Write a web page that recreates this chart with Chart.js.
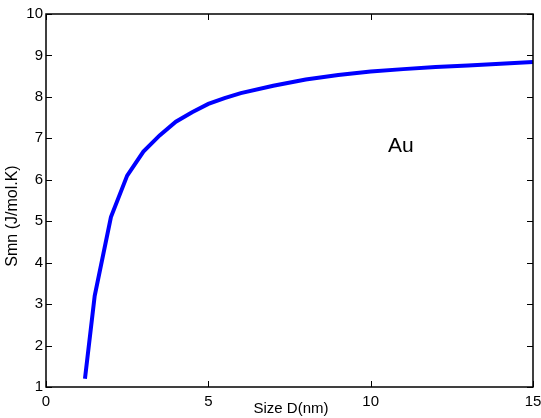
<!DOCTYPE html>
<html>
<head>
<meta charset="utf-8">
<script src="https://cdn.jsdelivr.net/npm/chart.js@4.4.0/dist/chart.umd.min.js"></script>
<style>
  html, body { margin: 0; padding: 0; background: #fff; }
  #wrap { width: 541px; height: 418px; position: relative; }
</style>
</head>
<body>
<div id="wrap"><canvas id="chart"></canvas></div>
<script>
// size D (nm) and molar entropy values
const sizeD = [1.2, 1.5, 2, 2.5, 3, 3.5, 4, 4.5, 5, 5.5, 6, 7, 8, 9, 10, 11, 12, 13, 14, 15];
const smn = [1.2, 3.2, 5.1, 6.1, 6.68, 7.07, 7.40, 7.63, 7.83, 7.97, 8.09, 8.27, 8.42, 8.53, 8.61, 8.67, 8.72, 8.76, 8.80, 8.84];
const xTicks = [0, 5, 10, 15];
const yTicks = [1, 2, 3, 4, 5, 6, 7, 8, 9, 10];
const xTitle = 'Size D(nm)';
const yTitle = 'Smn (J/mol.K)';
const note = 'Au';

const points = sizeD.map((d, i) => ({ x: d, y: smn[i] }));
const FONT = '"Liberation Sans", Arial, sans-serif';

// matlab style box + inward ticks + labels
const boxPlugin = {
  id: 'box',
  afterDraw(chart) {
    const ctx = chart.ctx;
    const a = chart.chartArea;
    const xs = chart.scales.x, ys = chart.scales.y;
    ctx.save();
    ctx.strokeStyle = '#000';
    ctx.lineWidth = 1.5;
    ctx.strokeRect(a.left, a.top, a.right - a.left, a.bottom - a.top);
    ctx.lineWidth = 1;
    ctx.beginPath();
    xTicks.forEach(t => {
      const px = Math.round(xs.getPixelForValue(t)) + 0.5;
      ctx.moveTo(px, a.bottom); ctx.lineTo(px, a.bottom - 6);
      ctx.moveTo(px, a.top); ctx.lineTo(px, a.top + 6);
    });
    yTicks.forEach(t => {
      const py = Math.round(ys.getPixelForValue(t)) + 0.5;
      ctx.moveTo(a.left, py); ctx.lineTo(a.left + 6, py);
      ctx.moveTo(a.right, py); ctx.lineTo(a.right - 6, py);
    });
    ctx.stroke();

    ctx.fillStyle = '#000';
    ctx.font = '15px ' + FONT;
    ctx.textAlign = 'center';
    ctx.textBaseline = 'middle';
    ctx.fillText(xTitle, 291, 409);
    ctx.save();
    ctx.translate(13, 216);
    ctx.rotate(-Math.PI / 2);
    ctx.font = '16px ' + FONT;
    ctx.fillText(yTitle, 0, 0);
    ctx.restore();

    ctx.font = '21px ' + FONT;
    ctx.textBaseline = 'alphabetic';
    ctx.fillText(note, xs.getPixelForValue(10.93), ys.getPixelForValue(6.67));
    ctx.restore();
  }
};

new Chart(document.getElementById('chart'), {
  type: 'line',
  data: {
    datasets: [{
      data: points,
      borderColor: '#0000ff',
      borderWidth: 4,
      pointRadius: 0,
      tension: 0,
      fill: false
    }]
  },
  options: {
    responsive: true,
    maintainAspectRatio: false,
    animation: false,
    layout: { padding: { left: 0, top: 14, right: 8, bottom: 0 } },
    plugins: { legend: { display: false }, tooltip: { enabled: false } },
    scales: {
      x: {
        type: 'linear',
        min: 0, max: 15,
        afterBuildTicks: s => { s.ticks = xTicks.map(v => ({ value: v })); },
        afterFit: s => { s.height = 31; s.paddingLeft = 0; s.paddingRight = 0; },
        grid: { display: false, drawTicks: false },
        border: { display: false },
        ticks: { color: '#000', padding: 6, maxRotation: 0,
                 font: { size: 15, family: FONT } }
      },
      y: {
        min: 1, max: 10,
        afterBuildTicks: s => { s.ticks = yTicks.map(v => ({ value: v })); },
        afterFit: s => { s.width = 46; s.paddingTop = 0; s.paddingBottom = 0; },
        grid: { display: false, drawTicks: false },
        border: { display: false },
        ticks: { color: '#000', padding: 3,
                 font: { size: 15, family: FONT } }
      }
    }
  },
  plugins: [boxPlugin]
});
</script>
</body>
</html>
